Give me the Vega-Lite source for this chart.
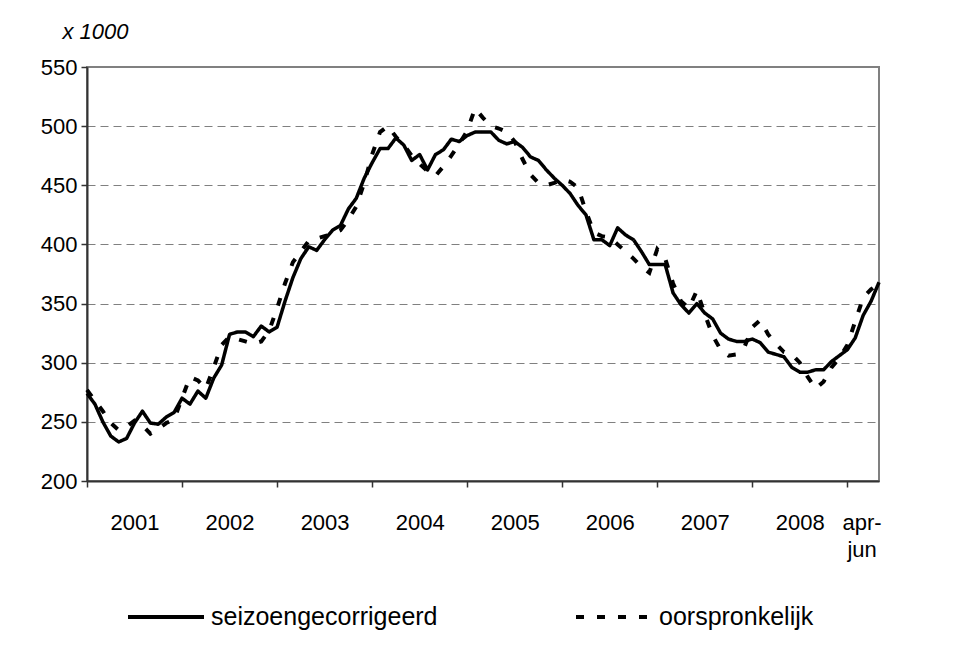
{
  "$schema": "https://vega.github.io/schema/vega-lite/v6.json",
  "width": 792,
  "height": 414,
  "autosize": {"type": "none"},
  "padding": {"left": 87, "top": 67, "right": 88, "bottom": 174},
  "background": "white",
  "config": {
    "font": "Liberation Sans",
    "view": {"stroke": "#808080", "strokeWidth": 2}
  },
  "data": {
    "values": [
      {"t":0,"seizoengecorrigeerd":274,"oorspronkelijk":277},
      {"t":1,"seizoengecorrigeerd":265,"oorspronkelijk":268},
      {"t":2,"seizoengecorrigeerd":250,"oorspronkelijk":259},
      {"t":3,"seizoengecorrigeerd":238,"oorspronkelijk":249},
      {"t":4,"seizoengecorrigeerd":233,"oorspronkelijk":243},
      {"t":5,"seizoengecorrigeerd":236,"oorspronkelijk":246},
      {"t":6,"seizoengecorrigeerd":249,"oorspronkelijk":251},
      {"t":7,"seizoengecorrigeerd":259,"oorspronkelijk":247},
      {"t":8,"seizoengecorrigeerd":249,"oorspronkelijk":240},
      {"t":9,"seizoengecorrigeerd":248,"oorspronkelijk":244},
      {"t":10,"seizoengecorrigeerd":254,"oorspronkelijk":249},
      {"t":11,"seizoengecorrigeerd":258,"oorspronkelijk":252},
      {"t":12,"seizoengecorrigeerd":270,"oorspronkelijk":270},
      {"t":13,"seizoengecorrigeerd":265,"oorspronkelijk":288},
      {"t":14,"seizoengecorrigeerd":276,"oorspronkelijk":285},
      {"t":15,"seizoengecorrigeerd":270,"oorspronkelijk":278},
      {"t":16,"seizoengecorrigeerd":287,"oorspronkelijk":296},
      {"t":17,"seizoengecorrigeerd":298,"oorspronkelijk":315},
      {"t":18,"seizoengecorrigeerd":324,"oorspronkelijk":322},
      {"t":19,"seizoengecorrigeerd":326,"oorspronkelijk":320},
      {"t":20,"seizoengecorrigeerd":326,"oorspronkelijk":318},
      {"t":21,"seizoengecorrigeerd":322,"oorspronkelijk":316},
      {"t":22,"seizoengecorrigeerd":331,"oorspronkelijk":318},
      {"t":23,"seizoengecorrigeerd":326,"oorspronkelijk":327},
      {"t":24,"seizoengecorrigeerd":330,"oorspronkelijk":346},
      {"t":25,"seizoengecorrigeerd":352,"oorspronkelijk":367},
      {"t":26,"seizoengecorrigeerd":372,"oorspronkelijk":385},
      {"t":27,"seizoengecorrigeerd":388,"oorspronkelijk":394},
      {"t":28,"seizoengecorrigeerd":398,"oorspronkelijk":403},
      {"t":29,"seizoengecorrigeerd":395,"oorspronkelijk":405},
      {"t":30,"seizoengecorrigeerd":404,"oorspronkelijk":407},
      {"t":31,"seizoengecorrigeerd":412,"oorspronkelijk":409},
      {"t":32,"seizoengecorrigeerd":416,"oorspronkelijk":412},
      {"t":33,"seizoengecorrigeerd":430,"oorspronkelijk":421},
      {"t":34,"seizoengecorrigeerd":439,"oorspronkelijk":432},
      {"t":35,"seizoengecorrigeerd":456,"oorspronkelijk":452},
      {"t":36,"seizoengecorrigeerd":469,"oorspronkelijk":476},
      {"t":37,"seizoengecorrigeerd":481,"oorspronkelijk":495},
      {"t":38,"seizoengecorrigeerd":481,"oorspronkelijk":500},
      {"t":39,"seizoengecorrigeerd":490,"oorspronkelijk":491},
      {"t":40,"seizoengecorrigeerd":484,"oorspronkelijk":484},
      {"t":41,"seizoengecorrigeerd":471,"oorspronkelijk":475},
      {"t":42,"seizoengecorrigeerd":476,"oorspronkelijk":468},
      {"t":43,"seizoengecorrigeerd":463,"oorspronkelijk":462},
      {"t":44,"seizoengecorrigeerd":476,"oorspronkelijk":458},
      {"t":45,"seizoengecorrigeerd":480,"oorspronkelijk":466},
      {"t":46,"seizoengecorrigeerd":489,"oorspronkelijk":475},
      {"t":47,"seizoengecorrigeerd":487,"oorspronkelijk":485},
      {"t":48,"seizoengecorrigeerd":492,"oorspronkelijk":496},
      {"t":49,"seizoengecorrigeerd":495,"oorspronkelijk":515},
      {"t":50,"seizoengecorrigeerd":495,"oorspronkelijk":507},
      {"t":51,"seizoengecorrigeerd":495,"oorspronkelijk":500},
      {"t":52,"seizoengecorrigeerd":488,"oorspronkelijk":498},
      {"t":53,"seizoengecorrigeerd":485,"oorspronkelijk":495},
      {"t":54,"seizoengecorrigeerd":487,"oorspronkelijk":487},
      {"t":55,"seizoengecorrigeerd":482,"oorspronkelijk":472},
      {"t":56,"seizoengecorrigeerd":474,"oorspronkelijk":459},
      {"t":57,"seizoengecorrigeerd":471,"oorspronkelijk":452},
      {"t":58,"seizoengecorrigeerd":463,"oorspronkelijk":450},
      {"t":59,"seizoengecorrigeerd":456,"oorspronkelijk":452},
      {"t":60,"seizoengecorrigeerd":450,"oorspronkelijk":455},
      {"t":61,"seizoengecorrigeerd":443,"oorspronkelijk":453},
      {"t":62,"seizoengecorrigeerd":433,"oorspronkelijk":448},
      {"t":63,"seizoengecorrigeerd":425,"oorspronkelijk":428},
      {"t":64,"seizoengecorrigeerd":404,"oorspronkelijk":410},
      {"t":65,"seizoengecorrigeerd":404,"oorspronkelijk":407},
      {"t":66,"seizoengecorrigeerd":399,"oorspronkelijk":406},
      {"t":67,"seizoengecorrigeerd":414,"oorspronkelijk":400},
      {"t":68,"seizoengecorrigeerd":408,"oorspronkelijk":394},
      {"t":69,"seizoengecorrigeerd":404,"oorspronkelijk":388},
      {"t":70,"seizoengecorrigeerd":394,"oorspronkelijk":381},
      {"t":71,"seizoengecorrigeerd":383,"oorspronkelijk":376},
      {"t":72,"seizoengecorrigeerd":383,"oorspronkelijk":396},
      {"t":73,"seizoengecorrigeerd":383,"oorspronkelijk":388},
      {"t":74,"seizoengecorrigeerd":359,"oorspronkelijk":367},
      {"t":75,"seizoengecorrigeerd":349,"oorspronkelijk":352},
      {"t":76,"seizoengecorrigeerd":342,"oorspronkelijk":346},
      {"t":77,"seizoengecorrigeerd":350,"oorspronkelijk":361},
      {"t":78,"seizoengecorrigeerd":342,"oorspronkelijk":341},
      {"t":79,"seizoengecorrigeerd":337,"oorspronkelijk":323},
      {"t":80,"seizoengecorrigeerd":325,"oorspronkelijk":311},
      {"t":81,"seizoengecorrigeerd":320,"oorspronkelijk":306},
      {"t":82,"seizoengecorrigeerd":318,"oorspronkelijk":307},
      {"t":83,"seizoengecorrigeerd":318,"oorspronkelijk":313},
      {"t":84,"seizoengecorrigeerd":320,"oorspronkelijk":330},
      {"t":85,"seizoengecorrigeerd":317,"oorspronkelijk":336},
      {"t":86,"seizoengecorrigeerd":309,"oorspronkelijk":324},
      {"t":87,"seizoengecorrigeerd":307,"oorspronkelijk":316},
      {"t":88,"seizoengecorrigeerd":305,"oorspronkelijk":309},
      {"t":89,"seizoengecorrigeerd":296,"oorspronkelijk":307},
      {"t":90,"seizoengecorrigeerd":292,"oorspronkelijk":300},
      {"t":91,"seizoengecorrigeerd":292,"oorspronkelijk":288},
      {"t":92,"seizoengecorrigeerd":294,"oorspronkelijk":278},
      {"t":93,"seizoengecorrigeerd":294,"oorspronkelijk":284},
      {"t":94,"seizoengecorrigeerd":301,"oorspronkelijk":296},
      {"t":95,"seizoengecorrigeerd":306,"oorspronkelijk":304},
      {"t":96,"seizoengecorrigeerd":311,"oorspronkelijk":315},
      {"t":97,"seizoengecorrigeerd":321,"oorspronkelijk":335},
      {"t":98,"seizoengecorrigeerd":340,"oorspronkelijk":355},
      {"t":99,"seizoengecorrigeerd":352,"oorspronkelijk":362},
      {"t":100,"seizoengecorrigeerd":368,"oorspronkelijk":367}
    ]
  },
  "transform": [
    {"fold": ["seizoengecorrigeerd", "oorspronkelijk"], "as": ["serie", "v"]}
  ],
  "resolve": {"axis": {"x": "independent"}},
  "layer": [
    {
      "transform": [{"filter": "datum.serie == 'seizoengecorrigeerd'"}],
      "mark": {"type": "line", "color": "black", "strokeWidth": 3.5, "strokeJoin": "round"},
      "encoding": {
        "x": {
          "field": "t", "type": "quantitative",
          "scale": {"domain": [0, 100], "nice": false, "zero": false},
          "axis": {
            "orient": "bottom", "title": null, "values": [0, 12, 24, 36, 48, 60, 72, 84, 96],
            "labels": false, "grid": false, "ticks": true, "tickSize": 6, "tickWidth": 1.5,
            "tickColor": "#333333", "domain": true, "domainColor": "#333333", "domainWidth": 2
          }
        },
        "y": {
          "field": "v", "type": "quantitative",
          "scale": {"domain": [200, 550], "nice": false, "zero": false},
          "axis": {
            "values": [200, 250, 300, 350, 400, 450, 500, 550],
            "grid": true, "gridDash": [8, 5], "gridColor": "#808080", "gridWidth": 1,
            "tickSize": 6, "tickColor": "#333333", "tickWidth": 1.5,
            "domainColor": "#333333", "domainWidth": 2,
            "labelFontSize": 22, "labelColor": "black", "labelPadding": 4,
            "title": "x 1000", "titleAngle": 0, "titleAlign": "left", "titleBaseline": "middle",
            "titleX": -25, "titleY": -36, "titleFontStyle": "italic", "titleFontWeight": "normal",
            "titleFontSize": 22, "titleColor": "black"
          }
        },
        "strokeDash": {
          "field": "serie", "type": "nominal",
          "scale": {"domain": ["seizoengecorrigeerd", "oorspronkelijk"], "range": [[1, 0], [8, 13]]},
          "legend": {
            "orient": "none", "legendX": 39, "legendY": 510, "direction": "horizontal",
            "title": null, "symbolType": "stroke", "symbolSize": 5776, "symbolStrokeWidth": 4,
            "symbolStrokeColor": "black", "labelFontSize": 25, "labelColor": "black",
            "labelOffset": 5, "labelLimit": 400, "columnPadding": 130
          }
        }
      }
    },
    {
      "transform": [{"filter": "datum.serie == 'oorspronkelijk'"}],
      "mark": {"type": "line", "color": "black", "strokeWidth": 4, "strokeCap": "butt"},
      "encoding": {
        "x": {
          "field": "t", "type": "quantitative",
          "scale": {"domain": [0, 100], "nice": false, "zero": false},
          "axis": {
            "orient": "bottom", "title": null,
            "values": [6, 18, 30, 42, 54, 66, 78, 90, 97.8],
            "labelExpr": "datum.value > 96 ? ['apr-', 'jun'] : '' + (2001 + floor(datum.value / 12))",
            "ticks": false, "domain": false, "grid": false, "labelFlush": false, "labelOverlap": false,
            "labelFontSize": 22, "labelColor": "black", "labelPadding": 31, "labelLineHeight": 27
          }
        },
        "y": {
          "field": "v", "type": "quantitative",
          "scale": {"domain": [200, 550], "nice": false, "zero": false},
          "axis": {
            "values": [200, 250, 300, 350, 400, 450, 500, 550],
            "grid": true, "gridDash": [8, 5], "gridColor": "#808080", "gridWidth": 1,
            "tickSize": 6, "tickColor": "#333333", "tickWidth": 1.5,
            "domainColor": "#333333", "domainWidth": 2,
            "labelFontSize": 22, "labelColor": "black", "labelPadding": 4,
            "title": "x 1000", "titleAngle": 0, "titleAlign": "left", "titleBaseline": "middle",
            "titleX": -25, "titleY": -36, "titleFontStyle": "italic", "titleFontWeight": "normal",
            "titleFontSize": 22, "titleColor": "black"
          }
        },
        "strokeDash": {"field": "serie", "type": "nominal"}
      }
    }
  ]
}
